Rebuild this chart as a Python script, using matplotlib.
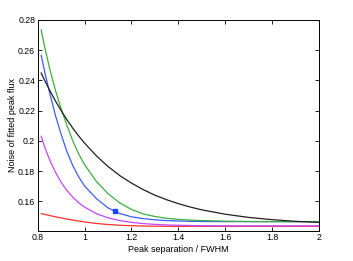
import matplotlib
matplotlib.use('Agg')
import matplotlib.pyplot as plt

# peak separation in units of FWHM
sep = [0.815, 0.83, 0.85, 0.875, 0.9, 0.925, 0.95, 0.975, 1.0, 1.05, 1.1, 1.15,
       1.2, 1.25, 1.3, 1.35, 1.4, 1.45, 1.5, 1.6, 1.7, 1.8, 1.9, 2.0]

noise_red = [0.1518, 0.1513, 0.1506, 0.1497, 0.1489, 0.1482, 0.1475, 0.1469,
             0.1463, 0.1453, 0.1446, 0.1441, 0.1438, 0.1436, 0.1435, 0.1434,
             0.1434, 0.1434, 0.1434, 0.1434, 0.1434, 0.1434, 0.1434, 0.1434]
noise_purple = [0.2030, 0.1959, 0.1878, 0.1794, 0.1726, 0.1670, 0.1626, 0.1590,
                0.1561, 0.1518, 0.1490, 0.1472, 0.1460, 0.1452, 0.1447, 0.1443,
                0.1441, 0.1439, 0.1438, 0.1437, 0.1437, 0.1437, 0.1437, 0.1437]
noise_blue = [0.2566, 0.2455, 0.2324, 0.2172, 0.2043, 0.1927, 0.1835, 0.1761,
              0.1701, 0.1618, 0.1556, 0.1519, 0.1497, 0.1485, 0.1477, 0.1472,
              0.1469, 0.1467, 0.1466, 0.1465, 0.1465, 0.1465, 0.1465, 0.1465]
noise_green = [0.2734, 0.2620, 0.2485, 0.2337, 0.2213, 0.2101, 0.1998, 0.1913,
               0.1842, 0.1732, 0.1650, 0.1589, 0.1546, 0.1516, 0.1499, 0.1487,
               0.1480, 0.1475, 0.1472, 0.1468, 0.1466, 0.1465, 0.1465, 0.1465]
noise_black = [0.2449, 0.2400, 0.2338, 0.2266, 0.2200, 0.2139, 0.2083, 0.2032,
               0.1985, 0.1901, 0.1830, 0.1770, 0.1720, 0.1677, 0.1640, 0.1610,
               0.1584, 0.1562, 0.1543, 0.1514, 0.1493, 0.1478, 0.1467, 0.1460]

marker_x = [1.13]
marker_y = [0.1535]

xticks = [0.8, 1, 1.2, 1.4, 1.6, 1.8, 2]
xticklabels = ['0.8', '1', '1.2', '1.4', '1.6', '1.8', '2']
yticks = [0.16, 0.18, 0.2, 0.22, 0.24, 0.26, 0.28]
yticklabels = ['0.16', '0.18', '0.2', '0.22', '0.24', '0.26', '0.28']

plt.rcParams['font.family'] = ['Liberation Sans', 'DejaVu Sans']

fig = plt.figure(figsize=(3.53, 2.61), dpi=100)
ax = fig.add_axes([0.1068, 0.1161, 0.7969, 0.8073])

ax.plot(sep, noise_red, color='#ff3030', lw=0.9)
ax.plot(sep, noise_purple, color='#c445ff', lw=0.9)
ax.plot(sep, noise_blue, color='#3a5cff', lw=0.9)
ax.plot(sep, noise_green, color='#3cae3c', lw=0.9)
ax.plot(sep, noise_black, color='#202020', lw=0.9)
ax.plot(marker_x, marker_y, 's', color='#2040ff', ms=3.5)

ax.set_xlim(0.8, 2)
ax.set_ylim(0.1405, 0.28)
ax.set_xticks(xticks)
ax.set_xticklabels(xticklabels)
ax.set_yticks(yticks)
ax.set_yticklabels(yticklabels)
ax.tick_params(direction='in', length=3, width=0.6, labelsize=6.3,
               top=True, right=True, pad=1.8)
for s in ax.spines.values():
    s.set_linewidth(0.7)

ax.set_xlabel('Peak separation / FWHM', fontsize=6.5, labelpad=2)
ax.set_ylabel('Noise of fitted peak flux', fontsize=6.5, labelpad=0.5)

fig.savefig('out.png', dpi=100)
